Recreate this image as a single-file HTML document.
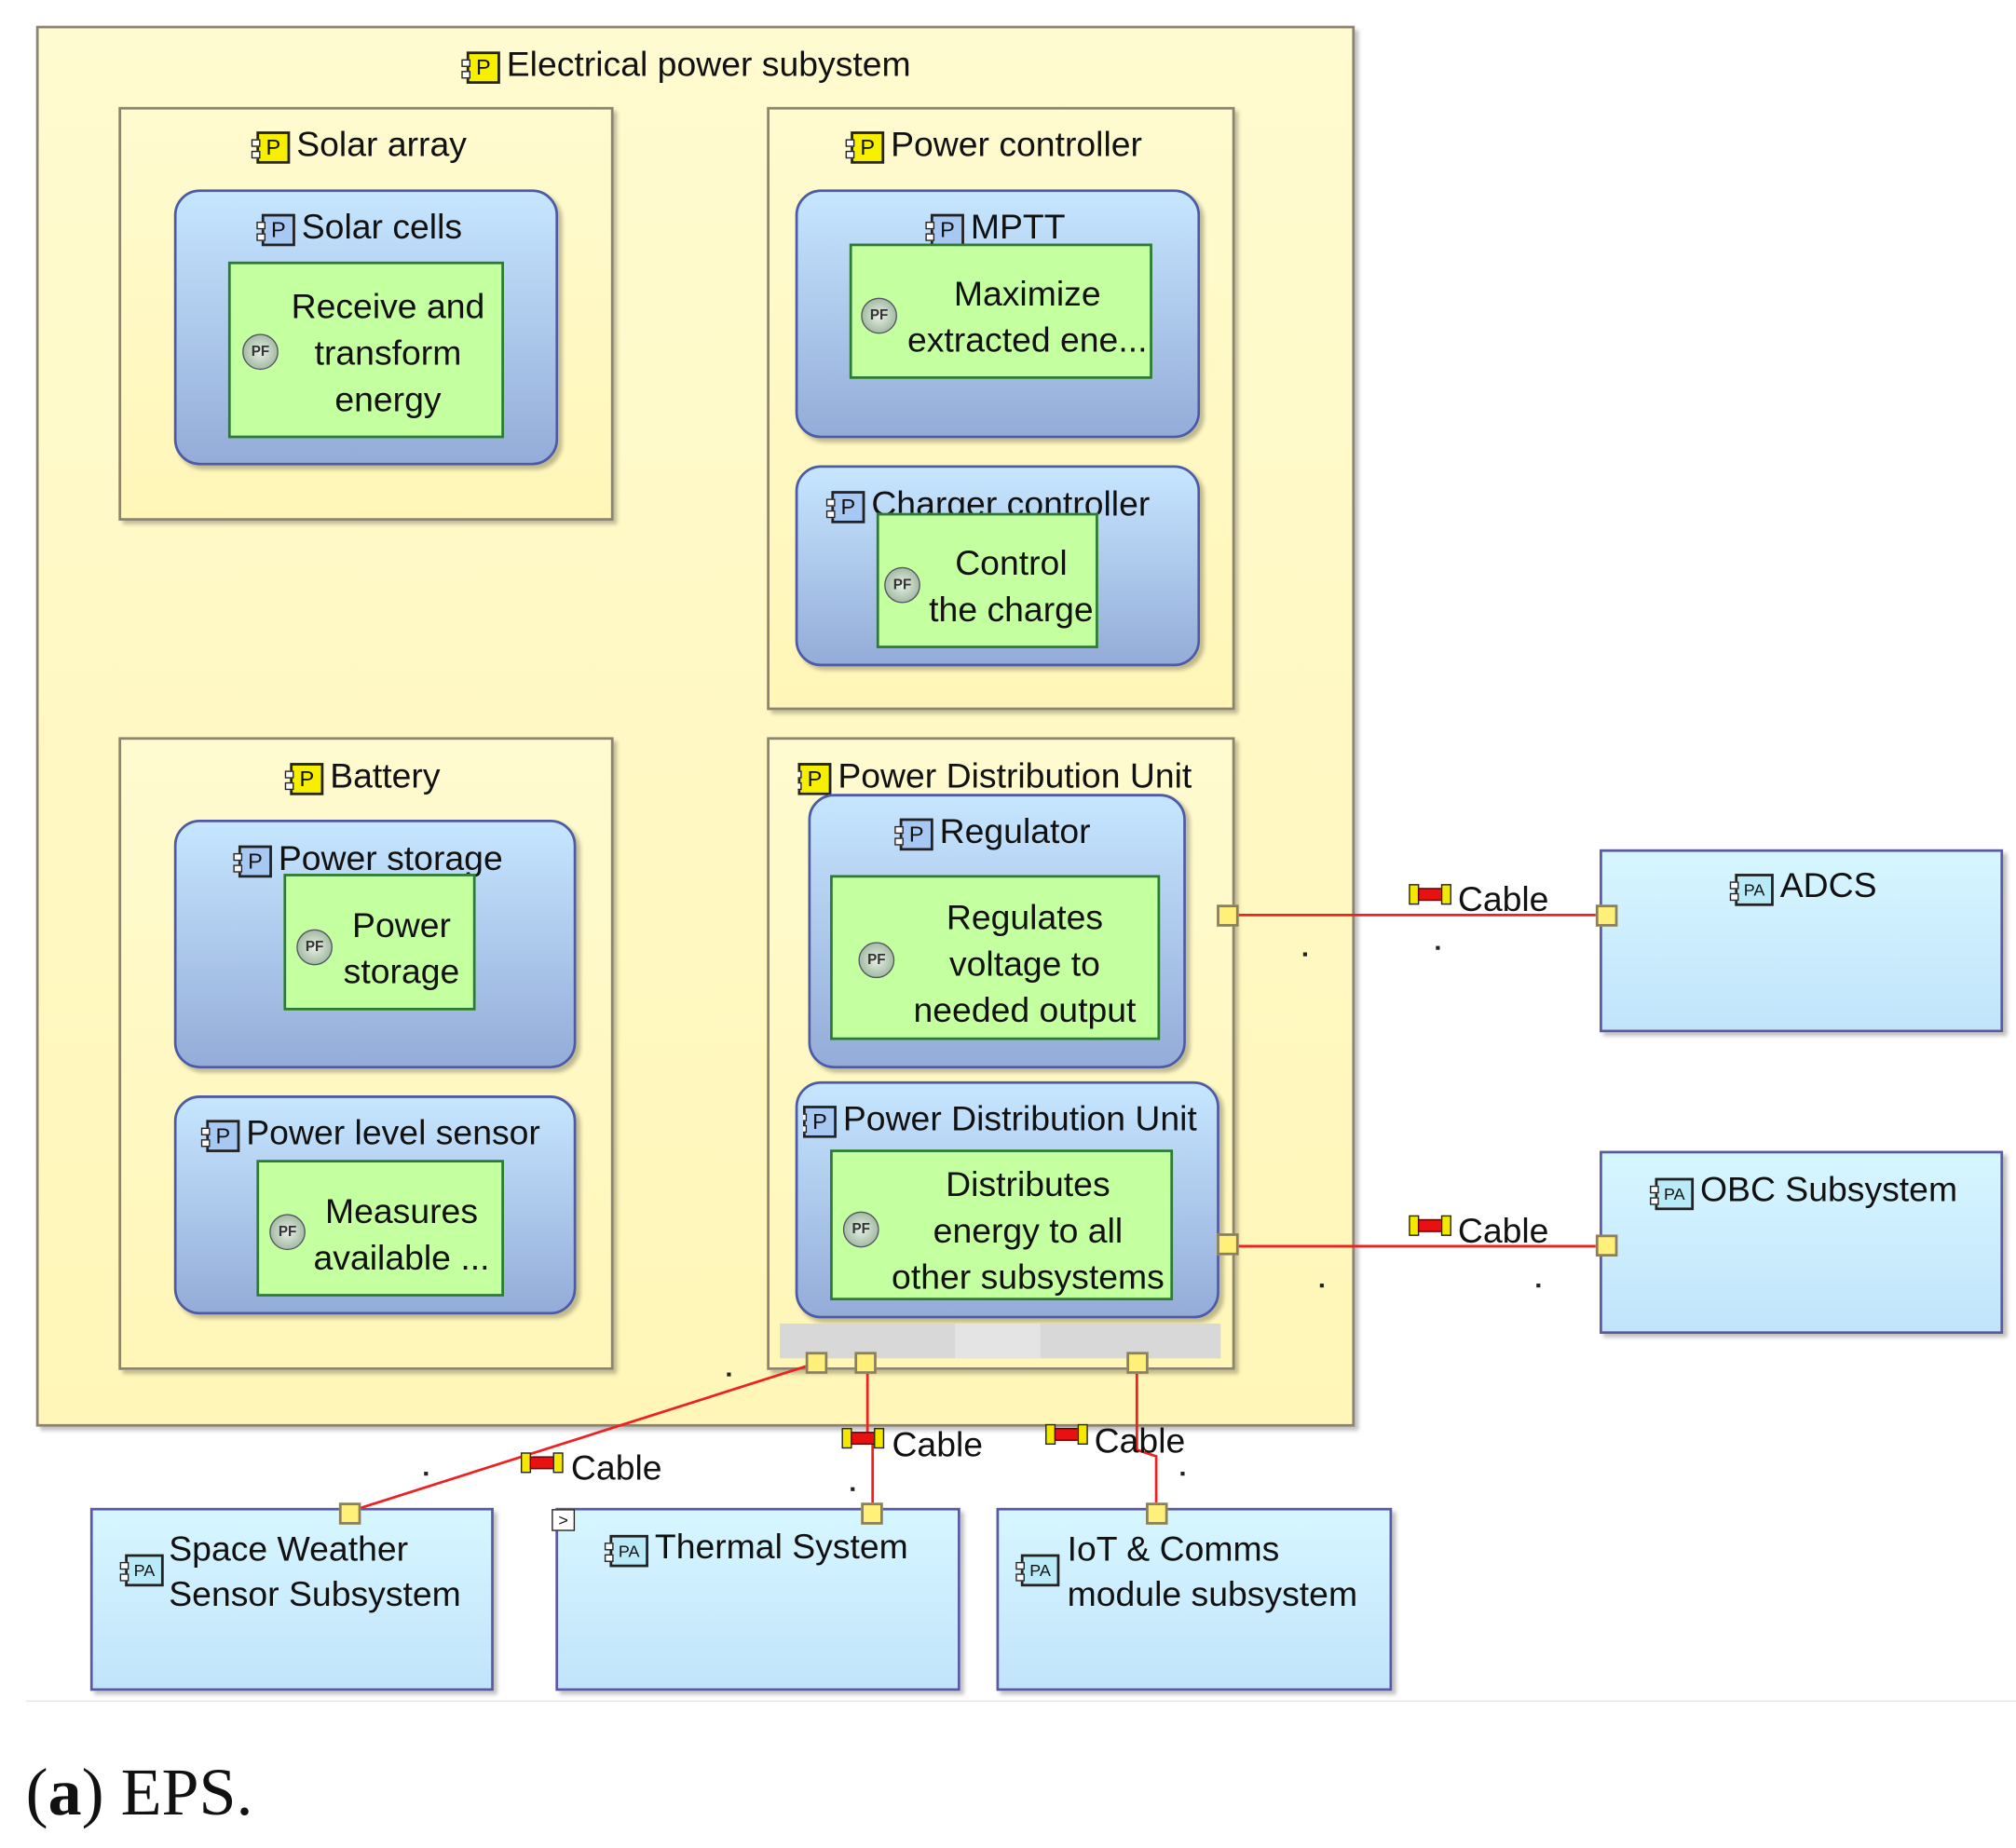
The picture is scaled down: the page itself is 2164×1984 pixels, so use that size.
<!DOCTYPE html>
<html><head><meta charset="utf-8"><style>
body{margin:0;background:#fff;width:2164px;height:1984px;overflow:hidden;}
#w{position:absolute;left:0;top:0;width:1564px;height:1434px;transform:scale(1.3836);transform-origin:0 0;font-family:"Liberation Sans",sans-serif;color:#111;}
.a{position:absolute;box-sizing:border-box;}
.y{background:linear-gradient(#fffbd0,#fff6b8);border:2px solid #8c8470;box-shadow:3px 3px 3px rgba(0,0,0,.25);}
.b{background:linear-gradient(#c6e6ff,#94acd8);border:2px solid #4c5aa8;border-radius:20px;box-shadow:3px 3px 3px rgba(0,0,0,.25);}
.g{background:#c4ffa0;border:2px solid #2b7a35;}
.c{background:linear-gradient(#d6f6ff,#c2e4fb);border:2px solid #5a5aa4;box-shadow:3px 3px 3px rgba(0,0,0,.25);}
.t{position:absolute;font-size:27px;white-space:nowrap;line-height:30px;}
.ic{display:inline-block;width:26px;height:25px;border:2px solid #222;box-sizing:border-box;font-size:17px;line-height:21px;text-align:center;vertical-align:1px;margin-right:5px;position:relative;background:#f6f000;}
.ic.bl{background:#a8c8f4}.ic.pa{background:#b8eaf8;font-size:13px;width:30px}
.ic:before{content:"";position:absolute;left:-6px;top:4px;width:5px;height:4px;border:1px solid #222;background:#fff}
.ic:after{content:"";position:absolute;left:-6px;top:13px;width:5px;height:4px;border:1px solid #222;background:#fff}
.pf{position:absolute;width:26px;height:26px;border-radius:50%;background:radial-gradient(#e8f0e8,#8aa88a);border:1px solid #556;font-size:11px;line-height:26px;text-align:center;font-weight:bold;color:#333;}
.ln{position:absolute;text-align:center;font-size:27px;line-height:36px;white-space:nowrap;}
.p{position:absolute;width:17px;height:17px;background:#fff07a;border:2px solid #8a8060;box-sizing:border-box;}
.cab{position:absolute;width:32px;height:16px;}
.cab i{position:absolute;left:0;top:0;width:8px;height:16px;background:#f4e800;border:1px solid #222;box-sizing:border-box}
.cab b{position:absolute;left:7px;top:3px;width:19px;height:10px;background:#e81010;border:1px solid #600;box-sizing:border-box}
.cab u{position:absolute;left:25px;top:0;width:8px;height:16px;background:#f4e800;border:1px solid #222;box-sizing:border-box}
.d{position:absolute;width:3px;height:3px;background:#222;}
</style></head><body><div id="w">
<div class="a y" style="left:28px;top:20px;width:1023px;height:1087px"></div>
<div class="t" style="left:362px;top:35px"><span class="ic">P</span>Electrical power subystem</div>

<div class="a y" style="left:92px;top:83px;width:384px;height:321px"></div>
<div class="t" style="left:199px;top:97px"><span class="ic">P</span>Solar array</div>
<div class="a b" style="left:135px;top:147px;width:298px;height:214px"></div>
<div class="t" style="left:203px;top:161px"><span class="ic bl">P</span>Solar cells</div>
<div class="a g" style="left:177px;top:203px;width:214px;height:137px"></div>
<div class="pf" style="left:188px;top:259px">PF</div>
<div class="ln" style="left:211px;top:220px;width:180px">Receive and<br>transform<br>energy</div>

<div class="a y" style="left:595px;top:83px;width:363px;height:468px"></div>
<div class="t" style="left:660px;top:97px"><span class="ic">P</span>Power controller</div>
<div class="a b" style="left:617px;top:147px;width:314px;height:193px"></div>
<div class="t" style="left:722px;top:161px"><span class="ic bl">P</span>MPTT</div>
<div class="a g" style="left:659px;top:189px;width:235px;height:105px"></div>
<div class="pf" style="left:668px;top:231px">PF</div>
<div class="ln" style="left:697px;top:210px;width:200px">Maximize<br>extracted ene...</div>
<div class="a b" style="left:617px;top:361px;width:314px;height:156px"></div>
<div class="t" style="left:645px;top:376px"><span class="ic bl">P</span>Charger controller</div>
<div class="a g" style="left:680px;top:398px;width:172px;height:105px"></div>
<div class="pf" style="left:686px;top:440px">PF</div>
<div class="ln" style="left:712px;top:419px;width:145px">Control<br>the charge</div>

<div class="a y" style="left:92px;top:572px;width:384px;height:491px"></div>
<div class="t" style="left:225px;top:587px"><span class="ic">P</span>Battery</div>
<div class="a b" style="left:135px;top:636px;width:312px;height:193px"></div>
<div class="t" style="left:185px;top:651px"><span class="ic bl">P</span>Power storage</div>
<div class="a g" style="left:220px;top:678px;width:149px;height:106px"></div>
<div class="pf" style="left:230px;top:721px">PF</div>
<div class="ln" style="left:254px;top:700px;width:115px">Power<br>storage</div>
<div class="a b" style="left:135px;top:850px;width:312px;height:170px"></div>
<div class="t" style="left:160px;top:864px"><span class="ic bl">P</span>Power level sensor</div>
<div class="a g" style="left:199px;top:900px;width:192px;height:106px"></div>
<div class="pf" style="left:209px;top:942px">PF</div>
<div class="ln" style="left:234px;top:922px;width:155px">Measures<br>available ...</div>

<div class="a y" style="left:595px;top:572px;width:363px;height:491px;overflow:hidden"></div>
<div class="t" style="left:619px;top:587px;width:329px;overflow:hidden"><span class="ic">P</span>Power Distribution Unit</div>
<div class="a b" style="left:627px;top:616px;width:293px;height:213px"></div>
<div class="t" style="left:698px;top:630px"><span class="ic bl">P</span>Regulator</div>
<div class="a g" style="left:644px;top:679px;width:256px;height:128px"></div>
<div class="pf" style="left:666px;top:731px">PF</div>
<div class="ln" style="left:690px;top:694px;width:210px">Regulates<br>voltage to<br>needed output</div>
<div class="a b" style="left:617px;top:839px;width:329px;height:184px"></div>
<div class="t" style="left:623px;top:853px;width:329px;overflow:hidden"><span class="ic bl">P</span>Power Distribution Unit</div>
<div class="a g" style="left:644px;top:892px;width:266px;height:117px"></div>
<div class="pf" style="left:654px;top:940px">PF</div>
<div class="ln" style="left:685px;top:901px;width:225px">Distributes<br>energy to all<br>other subsystems</div>
<div class="a" style="left:605px;top:1027px;width:342px;height:27px;background:#d8d8d8"></div>
<div class="a" style="left:741px;top:1027px;width:66px;height:27px;background:#e4e4e4"></div>

<div class="a c" style="left:1241px;top:659px;width:313px;height:142px"></div>
<div class="t" style="left:1346px;top:672px"><span class="ic pa">PA</span>ADCS</div>
<div class="a c" style="left:1241px;top:893px;width:313px;height:142px"></div>
<div class="t" style="left:1284px;top:908px"><span class="ic pa">PA</span>OBC Subsystem</div>
<div class="a c" style="left:70px;top:1170px;width:313px;height:142px"></div>
<div class="t" style="left:97px;top:1200px"><span class="ic pa">PA</span></div>
<div class="t" style="left:131px;top:1185px;line-height:35px">Space Weather<br>Sensor Subsystem</div>
<div class="a c" style="left:431px;top:1170px;width:314px;height:142px"></div>
<div class="a" style="left:428px;top:1171px;width:18px;height:17px;border:1px solid #222;background:#fff;font-size:13px;line-height:15px;text-align:center">&gt;</div>
<div class="t" style="left:473px;top:1185px"><span class="ic pa">PA</span>Thermal System</div>
<div class="a c" style="left:773px;top:1170px;width:307px;height:142px"></div>
<div class="t" style="left:792px;top:1200px"><span class="ic pa">PA</span></div>
<div class="t" style="left:828px;top:1185px;line-height:35px">IoT &amp; Comms<br>module subsystem</div>

<svg class="a" style="left:0;top:0" width="1564" height="1434"><g stroke="#ee2020" stroke-width="2" fill="none">
<line x1="961" y1="710" x2="1238" y2="710"/><line x1="961" y1="967" x2="1238" y2="967"/>
<line x1="626" y1="1060" x2="280" y2="1170"/>
<polyline points="673,1066 673,1115 677,1120 677,1166"/>
<polyline points="882,1066 882,1125 897,1130 897,1166"/></g>
<line x1="20" y1="1320" x2="1564" y2="1320" stroke="#e6e6e6" stroke-width="1"/></svg>

<div class="p" style="left:944px;top:702px"></div><div class="p" style="left:944px;top:957px"></div>
<div class="p" style="left:625px;top:1049px"></div><div class="p" style="left:663px;top:1049px"></div><div class="p" style="left:874px;top:1049px"></div>
<div class="p" style="left:1238px;top:702px"></div><div class="p" style="left:1238px;top:958px"></div>
<div class="p" style="left:263px;top:1166px"></div><div class="p" style="left:668px;top:1166px"></div><div class="p" style="left:889px;top:1166px"></div>

<div class="cab" style="left:1093px;top:686px"><i></i><b></b><u></u></div><div class="t" style="left:1131px;top:683px">Cable</div>
<div class="cab" style="left:1093px;top:943px"><i></i><b></b><u></u></div><div class="t" style="left:1131px;top:940px">Cable</div>
<div class="cab" style="left:404px;top:1127px"><i></i><b></b><u></u></div><div class="t" style="left:443px;top:1124px">Cable</div>
<div class="cab" style="left:653px;top:1108px"><i></i><b></b><u></u></div><div class="t" style="left:692px;top:1106px">Cable</div>
<div class="cab" style="left:811px;top:1105px"><i></i><b></b><u></u></div><div class="t" style="left:849px;top:1103px">Cable</div>

<div class="d" style="left:1011px;top:739px"></div><div class="d" style="left:1114px;top:734px"></div>
<div class="d" style="left:1024px;top:996px"></div><div class="d" style="left:1192px;top:996px"></div>
<div class="d" style="left:564px;top:1065px"></div><div class="d" style="left:329px;top:1142px"></div>
<div class="d" style="left:660px;top:1154px"></div><div class="d" style="left:916px;top:1142px"></div>

<div class="t" style="left:20px;top:1362px;font-family:'Liberation Serif',serif;font-size:52px;line-height:60px">(<b>a</b>) EPS.</div>
</div></body></html>
